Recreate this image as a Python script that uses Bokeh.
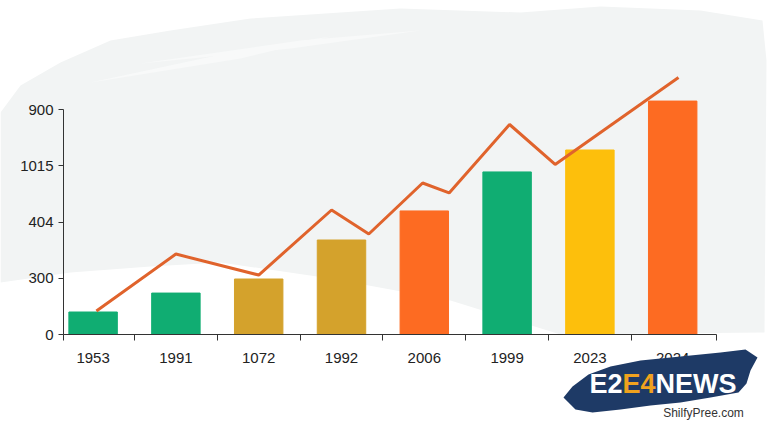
from bokeh.plotting import figure
from bokeh.models import Range1d, FixedTicker, PolyAnnotation, Label, ColumnDataSource
from bokeh.embed import file_html
from bokeh.resources import INLINE

# ---- data ----
categories = ["1953", "1991", "1072", "1992", "2006", "1999", "2023", "2024"]
bar_values = [120, 221, 296, 504, 659, 867, 984, 1245]
bar_colors = ["#10ad72", "#10ad72", "#d4a22c", "#d4a22c", "#fd6b22", "#10ad72", "#fdbf0c", "#fd6b22"]
line_x = [0.54, 1.5, 2.5, 3.38, 3.83, 4.48, 4.8, 5.53, 6.08, 7.57]
line_y = [125, 429, 317, 664, 536, 808, 755, 1120, 907, 1371]
y_ticks = [0, 300, 600, 900, 1200]
y_tick_labels = ["0", "300", "404", "1015", "900"]

FONT = "Liberation Sans"
W, H = 768, 432

# page-pixel layout of the data frame
X0_PX, X_UNIT = 51.2, 82.8      # page x of category boundary 0, px per category
Y0_PX, Y_UNIT = 334.0, 0.1875   # page y of value 0, px per value unit

def dx(px):
    return (px - X0_PX) / X_UNIT

p = figure(width=W, height=H, output_backend="svg", toolbar_location=None,
           x_range=Range1d(dx(0), dx(W)),
           y_range=Range1d(-(H - Y0_PX) / Y_UNIT, Y0_PX / Y_UNIT),
           min_border=0, min_border_left=0, min_border_right=0, min_border_top=0, min_border_bottom=0)
p.background_fill_color = "white"
p.border_fill_color = "white"
p.outline_line_color = None
p.grid.visible = False

def scr(pts):
    return [x for x, y in pts], [H - y for x, y in pts]

# background brush stroke (decoration)
bg = [(0, 112), (20, 85), (60, 62), (110, 40), (170, 30), (250, 18), (400, 8), (520, 12), (600, 6),
      (700, 10), (762, 20), (766, 60), (764, 332), (560, 334), (450, 300), (330, 278), (220, 262),
      (150, 266), (70, 272), (0, 282)]
bx, by = scr(bg)
p.add_layout(PolyAnnotation(xs=bx, ys=by, xs_units="screen", ys_units="screen",
                            fill_color="#f2f4f4", fill_alpha=1, line_color=None, level="underlay"))
for streak in [[(90, 82), (230, 52), (330, 36), (240, 58)],
               [(140, 63), (300, 40), (420, 30), (290, 48)]]:
    sx, sy = scr(streak)
    p.add_layout(PolyAnnotation(xs=sx, ys=sy, xs_units="screen", ys_units="screen",
                                fill_color="#f8f9f9", fill_alpha=1, line_color=None, level="underlay"))

src = ColumnDataSource(dict(x=[i + 0.5 for i in range(len(categories))], top=bar_values, color=bar_colors))
p.vbar(x="x", top="top", bottom=0, width=0.585, color="color", source=src)
p.line(line_x, line_y, line_color="#e0632c", line_width=3)

x_left = dx(63)
x_right = dx(716)

# axes
xa = p.xaxis[0]
xa.fixed_location = 0
xa.bounds = (x_left, x_right)
xa.ticker = FixedTicker(ticks=[i + 0.5 for i in range(len(categories))],
                        minor_ticks=[x_left] + list(range(1, len(categories))) + [x_right])
xa.major_label_overrides = {i + 0.5: c for i, c in enumerate(categories)}
xa.major_tick_line_color = None
xa.major_tick_out = 6
xa.minor_tick_out = 6
xa.minor_tick_in = 0
xa.minor_tick_line_color = "#333333"
xa.axis_line_color = "#333333"
xa.major_label_standoff = 12
xa.major_label_text_font = FONT
xa.major_label_text_font_size = "15px"
xa.major_label_text_color = "#222222"

ya = p.yaxis[0]
ya.fixed_location = x_left
ya.ticker = FixedTicker(ticks=y_ticks, minor_ticks=[])
ya.major_label_overrides = {t: l for t, l in zip(y_ticks, y_tick_labels)}
ya.bounds = (0, 1200)
ya.major_tick_out = 5
ya.major_tick_in = 0
ya.major_tick_line_color = "#333333"
ya.axis_line_color = "#333333"
ya.major_label_standoff = 5
ya.major_label_text_font = FONT
ya.major_label_text_font_size = "15px"
ya.major_label_text_color = "#222222"

# watermark logo
logo = [(563, 397), (572, 386), (588, 374), (610, 366), (640, 360), (680, 356), (720, 352), (745, 349),
        (757, 357), (750, 370), (746, 383), (738, 392), (710, 397), (680, 402), (650, 405), (620, 409),
        (592, 412), (575, 409)]
lx, ly = scr(logo)
p.add_layout(PolyAnnotation(xs=lx, ys=ly, xs_units="screen", ys_units="screen",
                            fill_color="#1e3a66", fill_alpha=1, line_color=None, level="overlay"))
for txt, px, col in [("E2", 589, "white"), ("E4", 622, "#f0a21e"), ("NEWS", 655, "white")]:
    p.add_layout(Label(x=px, y=H - 383, x_units="screen", y_units="screen", text=txt,
                       text_font="Liberation Sans", text_font_style="bold", text_font_size="27px",
                       text_color=col, text_align="left", text_baseline="middle", level="overlay"))
p.add_layout(Label(x=703, y=H - 412, x_units="screen", y_units="screen", text="ShilfyPree.com",
                   text_font="Liberation Sans", text_font_size="12px", text_color="#333333",
                   text_align="center", text_baseline="middle", level="overlay"))

open("out.html", "w").write(file_html(p, INLINE))
